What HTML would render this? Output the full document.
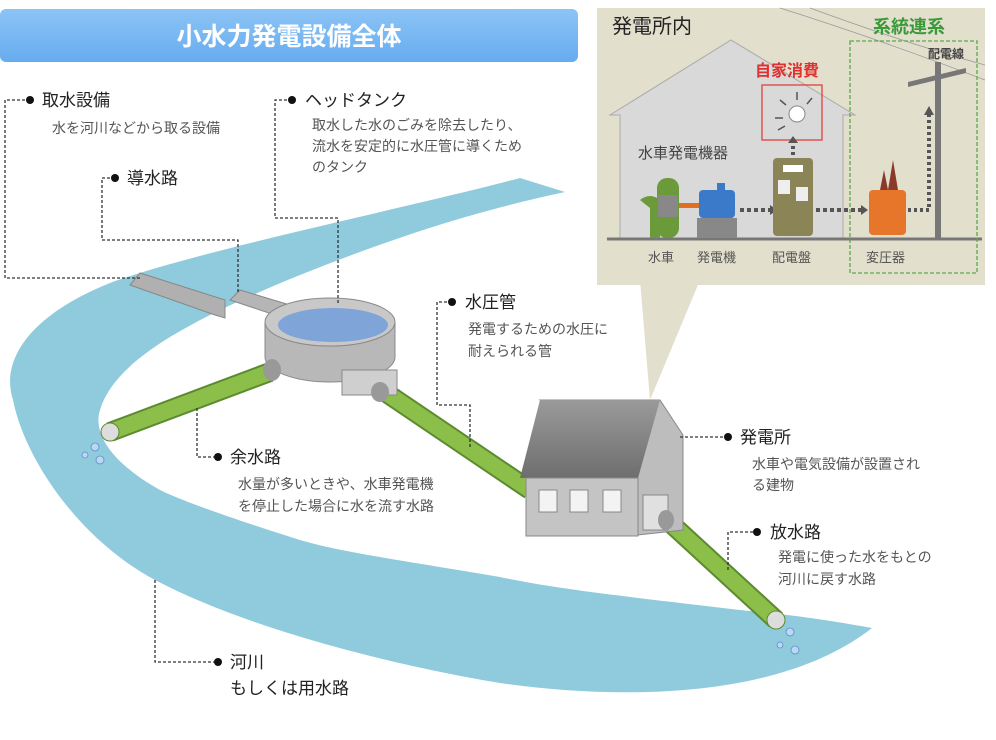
<!DOCTYPE html>
<html><head><meta charset="utf-8"><style>
body{margin:0;width:996px;height:740px;overflow:hidden;background:#fff;font-family:"Liberation Sans","Noto Sans CJK JP",sans-serif}
svg{position:absolute;left:0;top:0}
.t{font-size:17px;fill:#222}
.s{font-size:14px;fill:#555}
.d{fill:none;stroke:#333;stroke-width:1.3;stroke-dasharray:3,2}
</style></head><body>
<svg width="996" height="740" viewBox="0 0 996 740" font-family="Liberation Sans, Noto Sans CJK JP, sans-serif">
<defs>
<linearGradient id="pill" x1="0" y1="0" x2="0" y2="1"><stop offset="0" stop-color="#8cc4f6"/><stop offset="1" stop-color="#66acef"/></linearGradient>
<linearGradient id="roof" x1="0" y1="0" x2="0" y2="1"><stop offset="0" stop-color="#9a9a9a"/><stop offset="1" stop-color="#6e6e6e"/></linearGradient>
</defs>
<!-- river -->
<path d="M520,178 C420,205 200,250 110,283 C30,315 0,360 13,400 C25,460 80,540 155,580 C260,635 420,670 500,683 C620,700 780,700 872,628 C800,615 760,612 740,610 C640,598 560,590 500,577 C400,560 340,552 300,540 C230,518 180,500 160,490 C115,465 92,435 100,410 C115,360 190,320 300,275 C400,235 480,210 565,192 Z" fill="#8fcbdc"/>
<!-- title -->
<rect x="0" y="9" width="578" height="53" rx="6" fill="url(#pill)"/>
<text x="289" y="45" text-anchor="middle" font-size="25" font-weight="bold" fill="#fff">小水力発電設備全体</text>
<!-- callout -->
<polygon points="640,280 700,280 650,400" fill="#e3dfcd"/>
<rect x="597" y="8" width="388" height="277" fill="#e3dfcd"/>
<path d="M780,8 C850,30 920,55 985,80 M810,8 C870,30 930,50 985,65" stroke="#999" fill="none" stroke-width="0.8"/>
<polygon points="610,115 731,40 855,115 843,115 843,240 620,240 620,115" fill="#d9d9d9" stroke="#aaa"/>
<line x1="607" y1="239" x2="982" y2="239" stroke="#777" stroke-width="3"/>
<rect x="850" y="41" width="127" height="232" fill="none" stroke="#5aaa4a" stroke-width="1.3" stroke-dasharray="4,2"/>
<text x="612" y="33" font-size="20" fill="#222">発電所内</text>
<text x="873" y="33" font-size="18" font-weight="bold" fill="#3a9a3a">系統連系</text>
<text x="928" y="58" font-size="12" font-weight="bold" fill="#444">配電線</text>
<text x="755" y="76" font-size="16" font-weight="bold" fill="#e03030">自家消費</text>
<rect x="762" y="85" width="60" height="55" fill="none" stroke="#e04040" stroke-width="1.3"/>
<circle cx="797" cy="114" r="8" fill="#fff" stroke="#888"/>
<path d="M780,100 l6,5 M797,92 v8 M812,98 l-5,6 M775,118 h8 M778,130 l7,-4" stroke="#555" stroke-width="1.5"/>
<text x="638" y="158" font-size="15" fill="#444">水車発電機器</text>
<rect x="657" y="178" width="22" height="60" rx="10" fill="#6a9a3a"/>
<path d="M640,200 q10,-8 20,0 v38 h-10 v-30 q-5,-4 -10,-8z" fill="#6a9a3a"/>
<rect x="658" y="195" width="20" height="22" fill="#888"/>
<rect x="679" y="203" width="20" height="5" fill="#e07020"/>
<rect x="699" y="190" width="36" height="28" rx="4" fill="#3a7ac8"/>
<rect x="717" y="183" width="8" height="8" fill="#3a7ac8"/>
<rect x="697" y="218" width="40" height="20" fill="#888"/>
<path d="M740,210 h30" stroke="#555" stroke-width="4" stroke-dasharray="4,3"/><polygon points="770,205 777,210 770,215" fill="#555"/>
<rect x="773" y="158" width="40" height="78" rx="4" fill="#8a8456"/>
<rect x="783" y="165" width="20" height="7" fill="#fff"/>
<rect x="778" y="180" width="12" height="14" fill="#eee"/><rect x="796" y="187" width="12" height="14" fill="#eee"/>
<path d="M793,155 v-12" stroke="#555" stroke-width="4" stroke-dasharray="3,3"/><polygon points="788,143 793,136 798,143" fill="#555"/>
<path d="M816,210 h45" stroke="#555" stroke-width="4" stroke-dasharray="4,3"/><polygon points="861,205 868,210 861,215" fill="#555"/>
<rect x="869" y="190" width="37" height="45" rx="4" fill="#e8762a"/>
<polygon points="880,190 884,170 888,190" fill="#8a3a2a"/><polygon points="888,190 893,160 898,190" fill="#8a3a2a"/>
<path d="M908,210 h21 v-95" stroke="#555" stroke-width="4" stroke-dasharray="3,3" fill="none"/><polygon points="924,115 929,106 934,115" fill="#555"/>
<rect x="935" y="62" width="6" height="177" fill="#777"/>
<polygon points="908,82 966,68 966,73 908,87" fill="#777"/>
<text x="648" y="262" font-size="13" fill="#555">水車</text>
<text x="697" y="262" font-size="13" fill="#555">発電機</text>
<text x="772" y="262" font-size="13" fill="#555">配電盤</text>
<text x="866" y="262" font-size="13" fill="#555">変圧器</text>
<!-- channels -->
<polygon points="130,285 140,273 225,300 225,318 215,315" fill="#b0b0b0" stroke="#888"/>
<polygon points="230,300 240,290 290,305 290,320" fill="#b5b5b5" stroke="#888"/>
<!-- tank -->
<path d="M265,322 v35 a65,25 0 0 0 130,0 v-35 z" fill="#b8b8b8" stroke="#888"/>
<ellipse cx="330" cy="322" rx="65" ry="24" fill="#c8c8c8" stroke="#888"/>
<ellipse cx="333" cy="325" rx="55" ry="17" fill="#7fa4d8"/>
<!-- pipes -->
<line x1="270" y1="372" x2="110" y2="432" stroke="#5d8a30" stroke-width="20"/>
<line x1="270" y1="372" x2="110" y2="432" stroke="#8cbf4a" stroke-width="16"/>
<ellipse cx="272" cy="370" rx="9" ry="11" fill="#999"/>
<line x1="385" y1="392" x2="530" y2="490" stroke="#5d8a30" stroke-width="20"/>
<line x1="385" y1="392" x2="530" y2="490" stroke="#8cbf4a" stroke-width="16"/>
<rect x="342" y="370" width="55" height="25" fill="#cfcfcf" stroke="#888"/>
<ellipse cx="380" cy="392" rx="9" ry="10" fill="#999"/>
<line x1="665" y1="518" x2="776" y2="620" stroke="#5d8a30" stroke-width="20"/>
<line x1="665" y1="518" x2="776" y2="620" stroke="#8cbf4a" stroke-width="16"/>
<circle cx="110" cy="432" r="9" fill="#ddd" stroke="#5d8a30"/>
<circle cx="776" cy="620" r="9" fill="#ddd" stroke="#5d8a30"/>
<g fill="#bcd8f0" stroke="#5b8fd0" stroke-width="0.8"><circle cx="95" cy="447" r="4"/><circle cx="85" cy="455" r="3"/><circle cx="100" cy="460" r="4"/><circle cx="790" cy="632" r="4"/><circle cx="780" cy="645" r="3"/><circle cx="795" cy="650" r="4"/></g>
<!-- power house -->
<polygon points="540,400 660,400 683,435 683,530 638,535 638,478" fill="#bdbdbd" stroke="#888"/>
<polygon points="540,400 660,400 638,478 520,478" fill="url(#roof)"/>
<rect x="526" y="478" width="112" height="58" fill="#c4c4c4" stroke="#888"/>
<rect x="539" y="490" width="18" height="22" fill="#f3f3f3" stroke="#888"/>
<rect x="570" y="490" width="18" height="22" fill="#f3f3f3" stroke="#888"/>
<rect x="603" y="490" width="18" height="22" fill="#f3f3f3" stroke="#888"/>
<rect x="643" y="495" width="25" height="35" fill="#e0e0e0" stroke="#888"/>
<ellipse cx="666" cy="520" rx="8" ry="10" fill="#999"/>
<!-- leader lines -->
<path class="d" d="M30,100 H5 V278 H140"/>
<path class="d" d="M115,178 H102 V240 H238 V292"/>
<path class="d" d="M292,100 H275 V218 H338 V305"/>
<path class="d" d="M452,302 H437 V405 H470 V447"/>
<path class="d" d="M197,408 V457 H218"/>
<path class="d" d="M680,437 H728"/>
<path class="d" d="M728,570 V532 H757"/>
<path class="d" d="M155,580 V662 H218"/>
<g fill="#111"><circle cx="30" cy="100" r="4"/><circle cx="115" cy="178" r="4"/><circle cx="292" cy="100" r="4"/><circle cx="452" cy="302" r="4"/><circle cx="218" cy="457" r="4"/><circle cx="728" cy="437" r="4"/><circle cx="757" cy="532" r="4"/><circle cx="218" cy="662" r="4"/></g>
<text class="t" x="42" y="106">取水設備</text>
<text class="s" x="52" y="133">水を河川などから取る設備</text>
<text class="t" x="127" y="184">導水路</text>
<text class="t" x="305" y="106">ヘッドタンク</text>
<text class="s" x="312" y="130">取水した水のごみを除去したり、</text>
<text class="s" x="312" y="151">流水を安定的に水圧管に導くため</text>
<text class="s" x="312" y="172">のタンク</text>
<text class="t" x="465" y="308">水圧管</text>
<text class="s" x="468" y="334">発電するための水圧に</text>
<text class="s" x="468" y="356">耐えられる管</text>
<text class="t" x="230" y="463">余水路</text>
<text class="s" x="238" y="489">水量が多いときや、水車発電機</text>
<text class="s" x="238" y="511">を停止した場合に水を流す水路</text>
<text class="t" x="740" y="443">発電所</text>
<text class="s" x="752" y="469">水車や電気設備が設置され</text>
<text class="s" x="752" y="490">る建物</text>
<text class="t" x="770" y="538">放水路</text>
<text class="s" x="778" y="562">発電に使った水をもとの</text>
<text class="s" x="778" y="584">河川に戻す水路</text>
<text class="t" x="230" y="668">河川</text>
<text class="t" x="230" y="694">もしくは用水路</text>
</svg>
</body></html>
